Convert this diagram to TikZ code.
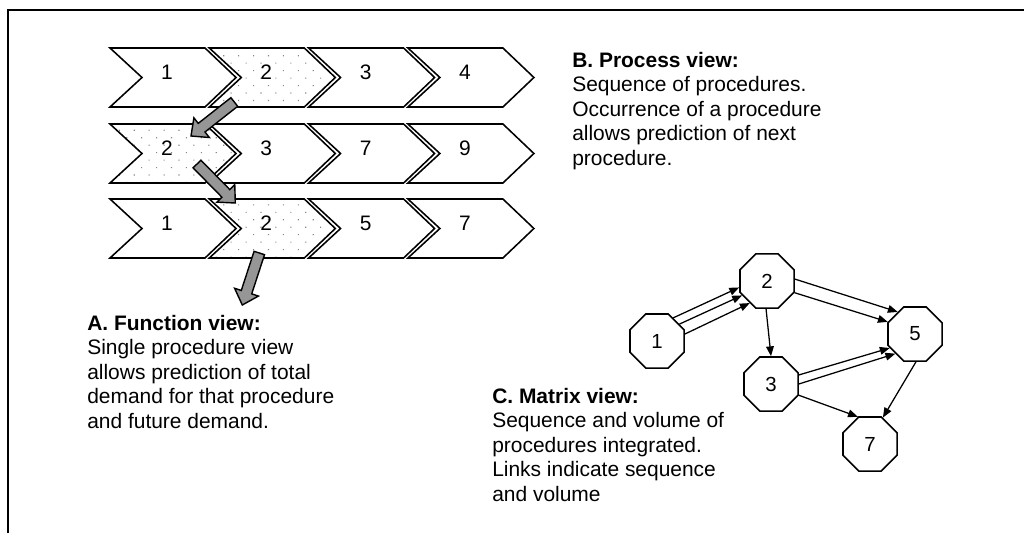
\documentclass[tikz,border=0pt]{standalone}
\usepackage{fontspec}
\setmainfont{Liberation Sans}
\usetikzlibrary{positioning, arrows.meta, shapes.geometric, calc, patterns.meta}
\definecolor{dotgray}{RGB}{135, 135, 135}
\definecolor{arrowgray}{RGB}{150, 150, 150}

% block arrow from tail coordinate #1 to tip coordinate #2
\newcommand{\blockarrow}[2]{%
    \coordinate (ba) at ($(#2)!9.6pt!(#1)$);
    \draw[blockarrow] ($(#1)!3.9pt!90:(#2)$) -- ($(ba)!3.9pt!90:(#2)$) -- ($(ba)!8.9pt!90:(#2)$) -- (#2)
        -- ($(ba)!8.9pt!-90:(#2)$) -- ($(ba)!3.9pt!-90:(#2)$) -- ($(#1)!3.9pt!-90:(#2)$) -- cycle;
}

\begin{document}
\begin{tikzpicture}[
    x=0.025cm, y=-0.025cm,
    font=\fontsize{14.9pt}{17.4pt}\selectfont,
    >={Triangle[length=7pt, width=5.5pt]},
    % Styles definition
    chev/.style={draw, line width=1.1pt, fill=white, line join=miter},
    chevdot/.style={chev, pattern={Dots[distance=7.5pt, angle=45, radius=0.55pt]}, pattern color=dotgray},
    num/.style={anchor=base, inner sep=0pt},
    oct/.style={draw, line width=1.1pt, regular polygon, regular polygon sides=8, minimum size=1.4625cm, inner sep=0pt, fill=white, font=\fontsize{14.5pt}{16pt}\selectfont},
    link/.style={->, line width=0.9pt},
    blockarrow/.style={draw, line width=1pt, fill=arrowgray, line join=miter},
    note/.style={align=left, anchor=north west, inner sep=0pt}
]
\useasboundingbox (0,0) rectangle (1024,533);

% Frame
\draw[line width=1.4pt] (8,533) |- (1024,10);

% 1. Procedure sequences (chevrons)
\foreach \row/\yt/\a/\b/\c/\d/\hl in {1/48/1/2/3/4/2, 2/124/2/3/7/9/1, 3/199/1/2/5/7/2} {
    \foreach \lab [count=\col] in {\a,\b,\c,\d} {
        \pgfmathsetmacro{\xl}{110+99.3*(\col-1)}
        \ifnum\col=\hl \def\sty{chevdot}\else\def\sty{chev}\fi
        \draw[\sty] (\xl,\yt) -- ++(95,0) -- ++(31,29.5) -- ++(-31,29.5) -- ++(-95,0) -- ++(32,-29.5) -- cycle;
        \node[num] (r\row-\col) at (\xl+57,\yt+31) {\lab};
    }
}

% 2. Function view arrows
\coordinate (a1tail) at ([shift={(-32,23)}]r1-2.base);
\coordinate (a1tip) at ([shift={(24,-19)}]r2-1.base);
\coordinate (a2tail) at ([shift={(30,9)}]r2-1.base);
\coordinate (a2tip) at ([shift={(-31,-27)}]r3-2.base);
\coordinate (a3tail) at ([shift={(-7,23)}]r3-2.base);
\coordinate (a3tip) at ([shift={(-24,75)}]r3-2.base);
\blockarrow{a1tail}{a1tip}
\blockarrow{a2tail}{a2tip}
\blockarrow{a3tail}{a3tip}

% 3. Matrix view (procedure network)
\node[oct] (p1) at (657,341) {1};
\node[oct] (p2) at (767,281) {2};
\node[oct] (p3) at (771,384) {3};
\node[oct] (p5) at (915,334) {5};
\node[oct] (p7) at (870,444) {7};

\draw[link] (p1.55) -- (p2.193);
\draw[link] (p1.37) -- (p2.210);
\draw[link] (p1.14) -- (p2.232);
\draw[link] (p2.4) -- (p5.128);
\draw[link] (p2.337) -- (p5.156);
\draw[link] (p2.268) -- (p3.north);
\draw[link] (p3.18) -- (p5.209);
\draw[link] (p3.0) -- (p5.225);
\draw[link] (p3.338) -- (p7.114);
\draw[link] (p5.272) -- (p7.64);

% 4. Descriptions
\node[note] (process) at (572,52) {\textbf{B. Process view:}\\Sequence of procedures.\\Occurrence of a procedure\\allows prediction of next\\procedure.};
\node[note] (function) at (87,315) {\textbf{A. Function view:}\\Single procedure view\\allows prediction of total\\demand for that procedure\\and future demand.};
\node[note] (matrix) at (492,388) {\textbf{C. Matrix view:}\\Sequence and volume of\\procedures integrated.\\Links indicate sequence\\and volume};

\end{tikzpicture}
\end{document}
